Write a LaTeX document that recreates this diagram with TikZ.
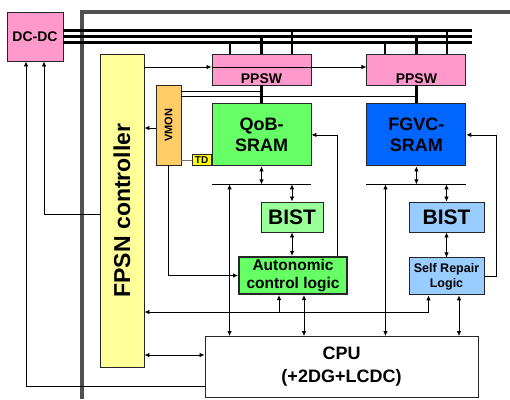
\documentclass[tikz,border=0pt]{standalone}
\usepackage{fontspec}
\setmainfont{Liberation Sans}
\usepackage{xcolor}
\usepackage{tikz}
\usetikzlibrary{positioning, arrows.meta, calc}
\definecolor{swpink}{HTML}{FF99CC}
\definecolor{vmonorange}{HTML}{FFCC66}
\definecolor{tdyellow}{HTML}{FFFF00}
\definecolor{ctrlyellow}{HTML}{FFFF99}
\definecolor{qobgreen}{HTML}{66FF66}
\definecolor{bistgreen}{HTML}{99FF99}
\definecolor{fgvcblue}{HTML}{0066FF}
\definecolor{repairblue}{HTML}{99CCFF}
\definecolor{framegray}{HTML}{505050}
\newcommand{\boldsz}[2]{\bfseries\fontsize{#1}{#2}\selectfont}
\tikzset{
  blk/.style={rectangle, draw=black!85, line width=0.9pt, align=center, inner sep=0pt},
  sw/.style={blk, fill=swpink, minimum width=99pt, minimum height=31pt,
             label={[anchor=south, inner sep=1.5pt, font=\boldsz{14}{16}]south:PPSW}},
  sram/.style={blk, minimum width=99pt, minimum height=62pt, font=\boldsz{18}{21}},
  arr/.style={-{Latex[length=5pt, width=4.5pt]}, line width=0.8pt},
  darr/.style={{Latex[length=5pt, width=4.5pt]}-{Latex[length=5pt, width=4.5pt]}, line width=0.8pt},
  wire/.style={line width=0.8pt},
  bus/.style={line width=3pt},
  tap/.style={line width=2.2pt},
}
\begin{document}
\begin{tikzpicture}[x=1pt, y=-1pt]
  \useasboundingbox (0,0) rectangle (510,399);
  % chip frame
  \draw[framegray, line width=4pt] (82,399) -- (82,12) -- (510,12);
  % supply, switches and memories (top)
  \node[blk, fill=swpink, minimum width=56pt, minimum height=49pt, font=\boldsz{14}{16}] (dcdc) at (35,36.5) {DC-DC};
  \node[sw] (ppsw1) at (261.5,69.5) {};
  \node[sw, right=55pt of ppsw1] (ppsw2) {};
  \node[sram, fill=qobgreen, below=18pt of ppsw1] (qob) {QoB-\\SRAM};
  \node[sram, fill=fgvcblue, below=18pt of ppsw2] (fgvc) {FGVC-\\SRAM};
  \node[blk, fill=ctrlyellow, minimum width=44pt, minimum height=313pt,
        label={[rotate=90, font=\boldsz{23}{26}]center:FPSN controller}] (fpsn) at (122,210.5) {};
  \node[blk, fill=vmonorange, minimum width=25pt, minimum height=80pt,
        label={[rotate=90, font=\boldsz{11}{12}]center:VMON}] (vmon) at (168.5,125) {};
  \node[blk, fill=tdyellow, minimum width=19pt, minimum height=11pt, font=\boldsz{10}{10},
        left=0pt of qob.south west, anchor=south east] (td) {TD};
  % test and repair (middle)
  \node[blk, fill=bistgreen, minimum width=62pt, minimum height=30pt, font=\boldsz{21}{22}] (bist1) at (292,217) {BIST};
  \node[blk, fill=repairblue, minimum width=75pt, minimum height=30pt, font=\boldsz{21}{22}] (bist2) at (446.5,217) {BIST};
  \node[blk, fill=qobgreen, line width=2pt, minimum width=108pt, minimum height=37pt, font=\boldsz{15.5}{17.5}] (acl) at (293,275.5) {Autonomic\\control logic};
  \node[blk, fill=repairblue, minimum width=75pt, minimum height=37pt, font=\boldsz{12.5}{15}, below=25pt of bist2] (srl) {Self Repair\\Logic};
  \node[blk, fill=white, minimum width=273pt, minimum height=61pt, font=\boldsz{18}{23}] (cpu) at (341.5,367) {CPU\\(+2DG+LCDC)};
  % power rails and switch taps
  \coordinate (railend) at (472,0);
  \foreach \r/\y in {A/30, B/36, C/42} {
    \coordinate (rail\r) at (63,\y);
    \draw[bus] (rail\r) -- (railend |- rail\r);
  }
  \foreach \p in {ppsw1, ppsw2}
    \foreach \dx/\r in {18.5/C, 50/B, 80.5/A} {
      \coordinate (tp) at ([xshift=\dx pt]\p.north west);
      \draw[tap] (tp) -- (tp |- rail\r);
    }
  \draw[tap] (ppsw1.south) -- (qob.north);
  \draw[tap] (ppsw2.south) -- (fgvc.north);
  % switch enables
  \coordinate (en) at ([yshift=2.5pt]ppsw1.west);
  \draw[arr] (en -| fpsn.east) -- (en);
  \draw[arr] (en) -- (en -| ppsw2.west);
  % voltage monitor
  \coordinate (vs1) at ([yshift=-7pt]vmon.north east);
  \coordinate (vs2) at ([yshift=-12pt]vmon.north east);
  \draw[wire] (vs1) -- (vs1 -| ppsw1.south);
  \draw[wire] (vs2) -- (vs2 -| ppsw2.south);
  \coordinate (vm) at ([yshift=-3pt]vmon.west);
  \draw[arr] (vm) -- (vm -| fpsn.east);
  \draw[wire, black!55] (td.west -| vmon.east) -- (td.west);
  \draw[arr] (vmon.south) |- (acl.west);
  % local test buses
  \coordinate (tb1) at ([yshift=-18pt]qob.south west);
  \coordinate (tb1e) at ([yshift=-18pt]qob.south east);
  \coordinate (tb2) at ([yshift=-18pt]fgvc.south west);
  \coordinate (tb2e) at ([yshift=-18pt]fgvc.south east);
  \draw[wire] (tb1) -- (tb1e);
  \draw[wire] (tb2) -- (tb2e);
  \draw[darr] (qob.south) -- (qob.south |- tb1);
  \draw[darr] (bist1.north) -- (bist1.north |- tb1);
  \draw[darr] (bist1.south) -- (bist1.south |- acl.north);
  \draw[darr] (fgvc.south) -- (fgvc.south |- tb2);
  \draw[darr] (bist2.north) -- (bist2.north |- tb2);
  \draw[darr] (bist2.south) -- (srl.north);
  \coordinate (cq) at ([xshift=18pt]tb1);
  \coordinate (cf) at ([xshift=19pt]tb2);
  \draw[darr] (cq) -- (cq |- cpu.north);
  \draw[darr] (cf) -- (cf |- cpu.north);
  % control back to the memories
  \draw[arr] ([xshift=-11pt]acl.north east) |- (qob.east);
  \draw[arr] (srl.east) -- ++(12,0) |- (fgvc.east);
  % links to the CPU
  \coordinate (ac) at ([xshift=11pt]acl.south);
  \coordinate (rc) at ([xshift=12.5pt]srl.south);
  \draw[darr] (ac) -- (ac |- cpu.north);
  \draw[darr] (rc) -- (rc |- cpu.north);
  \coordinate (st) at (279,312);
  \coordinate (sr) at ([xshift=-18pt]srl.south);
  \draw[arr] (st) -- (st -| fpsn.east);
  \draw[arr] (st) -- (st |- acl.south);
  \draw[arr] (st) -| (sr);
  \coordinate (fc) at ([yshift=12pt]cpu.west);
  \draw[darr] (fc -| fpsn.east) -- (fc);
  % requests to the DC-DC
  \draw[arr] ([yshift=-3.5pt]fpsn.west) -| ([xshift=9pt]dcdc.south);
  \draw[arr] ([yshift=-19pt]cpu.west) -| ([xshift=-9pt]dcdc.south);
\end{tikzpicture}
\end{document}
